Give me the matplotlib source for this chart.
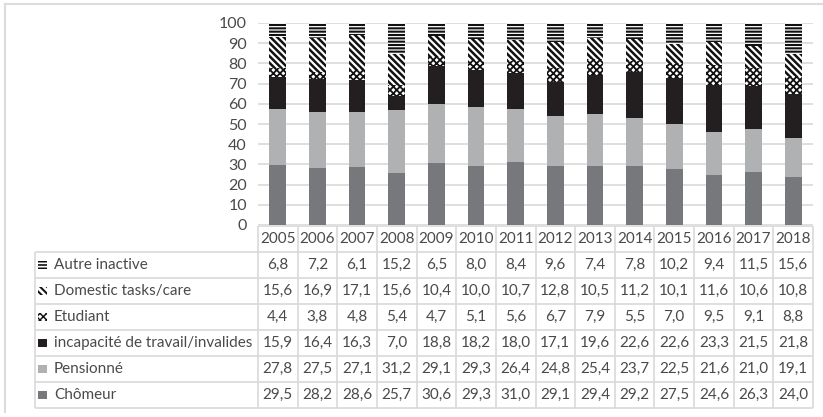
import matplotlib
matplotlib.use("Agg")
import matplotlib.pyplot as plt
from matplotlib.patches import Rectangle
from matplotlib.lines import Line2D
import numpy as np

years = ["2005", "2006", "2007", "2008", "2009", "2010", "2011",
         "2012", "2013", "2014", "2015", "2016", "2017", "2018"]

chomeur = [29.5, 28.2, 28.6, 25.7, 30.6, 29.3, 31.0, 29.1, 29.4, 29.2, 27.5, 24.6, 26.3, 24.0]
pensionne = [27.8, 27.5, 27.1, 31.2, 29.1, 29.3, 26.4, 24.8, 25.4, 23.7, 22.5, 21.6, 21.0, 19.1]
incapacite = [15.9, 16.4, 16.3, 7.0, 18.8, 18.2, 18.0, 17.1, 19.6, 22.6, 22.6, 23.3, 21.5, 21.8]
etudiant = [4.4, 3.8, 4.8, 5.4, 4.7, 5.1, 5.6, 6.7, 7.9, 5.5, 7.0, 9.5, 9.1, 8.8]
domestic = [15.6, 16.9, 17.1, 15.6, 10.4, 10.0, 10.7, 12.8, 10.5, 11.2, 10.1, 11.6, 10.6, 10.8]
autre = [6.8, 7.2, 6.1, 15.2, 6.5, 8.0, 8.4, 9.6, 7.4, 7.8, 10.2, 9.4, 11.5, 15.6]

# stacking order, bottom to top
series = [
    ("Chômeur", chomeur, dict(color="#77787b")),
    ("Pensionné", pensionne, dict(color="#b0b1b3")),
    ("incapacité de travail/invalides", incapacite, dict(color="#231f20")),
    ("Etudiant", etudiant, dict(color="white", hatch="xxxxx", edgecolor="#111111", hlw=1.3)),
    ("Domestic tasks/care", domestic, dict(color="white", hatch="\\\\\\\\\\", edgecolor="#111111", hlw=1.8)),
    ("Autre inactive", autre, dict(color="white", hatch="-----", edgecolor="#111111", hlw=1.5)),
]

TXT = "#4a4a4a"
GRID = "#d9d9d9"
FONT = "Lato"

W, H = 823, 417
fig = plt.figure(figsize=(W / 100, H / 100), dpi=100)
fig.patch.set_facecolor("white")

def px_rect(x0, y0, x1, y1):
    return [x0 / W, 1 - y1 / H, (x1 - x0) / W, (y1 - y0) / H]

# plot area
ax = fig.add_axes(px_rect(258, 23, 813, 225))
x = np.arange(len(years))
bottom = np.zeros(len(years))
for name, vals, st in series:
    vals = np.array(vals)
    if "hatch" in st:
        plt.rcParams["hatch.linewidth"] = st["hlw"]
        bars = ax.bar(x, vals, 0.42, bottom=bottom, facecolor=st["color"],
                      edgecolor=st["edgecolor"], hatch=st["hatch"], linewidth=0, zorder=3)
        for b in bars:
            if hasattr(b, "set_hatch_linewidth"):
                b.set_hatch_linewidth(st["hlw"])
    else:
        ax.bar(x, vals, 0.42, bottom=bottom, color=st["color"], linewidth=0, zorder=3)
    bottom += vals

ax.set_xlim(-0.5, len(years) - 0.5)
ax.set_ylim(0, 100)
ax.set_yticks(np.arange(0, 101, 10))
ax.set_xticks([])
ax.yaxis.grid(True, color=GRID, linewidth=1.2, zorder=0)
ax.set_axisbelow(True)
for s in ["left", "right", "top", "bottom"]:
    ax.spines[s].set_visible(False)
ax.tick_params(axis="y", length=0, pad=8, labelsize=11.5, labelcolor=TXT)
for lab in ax.get_yticklabels():
    lab.set_fontfamily(FONT)

# data table below the plot
col_w = (813 - 258) / len(years)
x_left = -0.5 - (258 - 35) / col_w
tab = fig.add_axes(px_rect(35, 226, 813, 408))
tab.set_xlim(x_left, len(years) - 0.5)
tab.set_ylim(7, 0)
tab.axis("off")

lk = dict(color=GRID, linewidth=1.2, solid_capstyle="butt", clip_on=False)
# header row frame (year cells only)
tab.plot([-0.5, len(years) - 0.5], [0, 0], **lk)
for r in range(1, 8):
    tab.plot([x_left, len(years) - 0.5], [r, r], **lk)
tab.plot([x_left, x_left], [1, 7], **lk)
for c in range(len(years) + 1):
    tab.plot([c - 0.5, c - 0.5], [0, 7], **lk)

for i, yr in enumerate(years):
    tab.text(i, 0.5, yr, ha="center", va="center", fontsize=11, color=TXT, family=FONT)

rows = list(reversed(series))
icon_w = 9 / col_w
for r, (name, vals, st) in enumerate(rows, start=1):
    yc = r + 0.5
    ix = x_left + 3 / col_w
    if "hatch" in st:
        plt.rcParams["hatch.linewidth"] = st["hlw"] * 0.8
        p = Rectangle((ix, yc - 0.17), icon_w, 0.34, facecolor="white",
                      edgecolor=st["edgecolor"], hatch=st["hatch"], linewidth=0)
    else:
        p = Rectangle((ix, yc - 0.17), icon_w, 0.34, facecolor=st["color"], linewidth=0)
    tab.add_patch(p)
    tab.text(x_left + 19 / col_w, yc, name, ha="left", va="center",
             fontsize=11, color=TXT, family=FONT)
    for i, v in enumerate(vals):
        tab.text(i, yc, f"{v:.1f}".replace(".", ","), ha="center", va="center",
                 fontsize=11, color=TXT, family=FONT)

# outer frame (top and left edges)
fig.add_artist(Line2D([4.5 / W, 1], [1 - 3.5 / H, 1 - 3.5 / H], color="#dcdcdc",
                      linewidth=1.5, transform=fig.transFigure))
fig.add_artist(Line2D([4.5 / W, 4.5 / W], [1 - 3.5 / H, 1 - 412 / H], color="#dcdcdc",
                      linewidth=1.5, transform=fig.transFigure))

fig.savefig("out.png", dpi=100)
